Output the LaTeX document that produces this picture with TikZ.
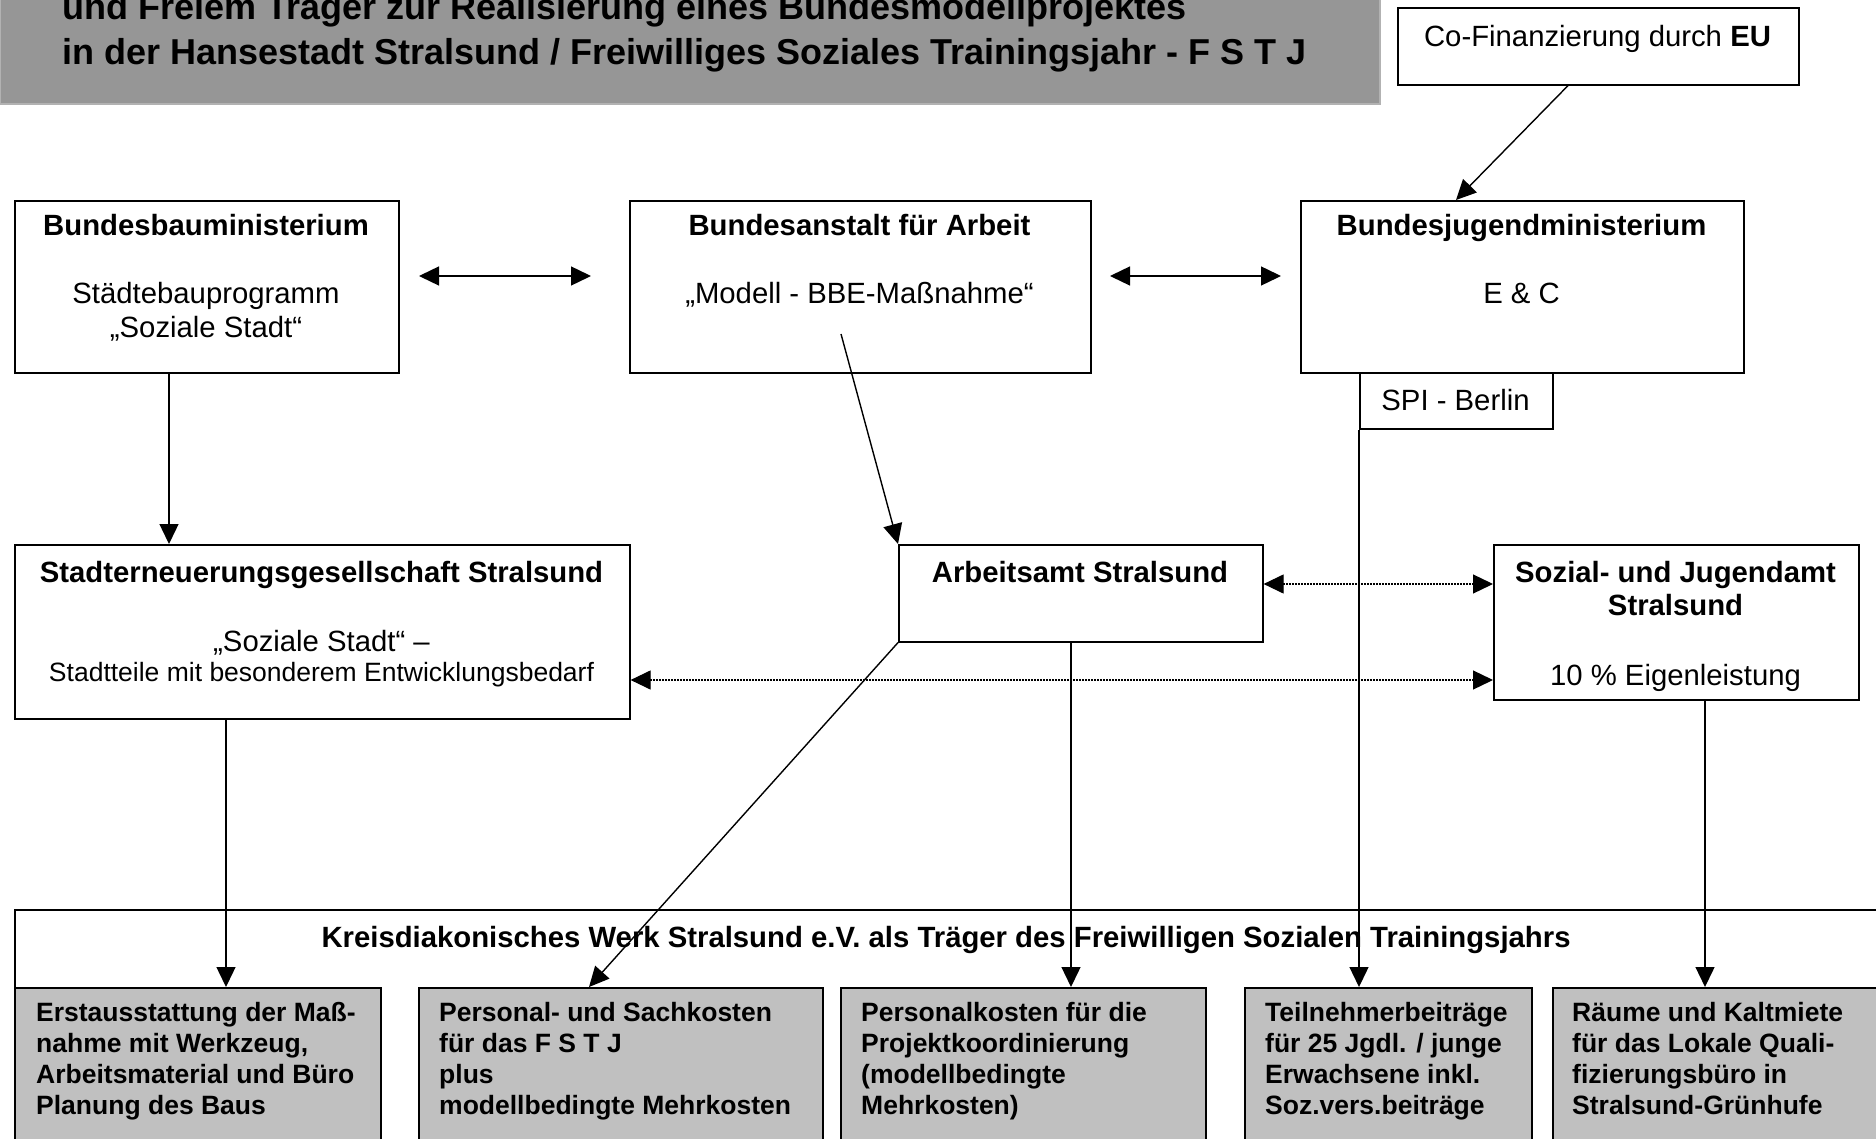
\documentclass[tikz,border=0pt]{standalone}
\usepackage{fontspec}
\setmainfont{Liberation Sans}
\usetikzlibrary{arrows.meta}
\definecolor{titlegray}{RGB}{150,150,150}
\definecolor{titleedge}{RGB}{178,178,178}
\definecolor{boxgray}{RGB}{192,192,192}
\newcommand\fN{\fontsize{29.3}{35}\selectfont}
\newcommand\fS{\fontsize{26.5}{31}\selectfont}
\newcommand\fT{\fontsize{36}{44}\selectfont\bfseries}
\begin{document}
\begin{tikzpicture}[x=1pt,y=-1pt,
  box/.style={draw, line width=1.6pt, inner sep=0pt, anchor=north west},
  graybox/.style={box, fill=boxgray},
  hd/.style={anchor=base, font=\fN\bfseries, inner sep=0pt},
  tx/.style={anchor=base, font=\fN, inner sep=0pt},
  sm/.style={anchor=base, font=\fS, inner sep=0pt},
  gt/.style={anchor=north west, font=\fS\bfseries, align=left, inner sep=0pt},
  arr/.style={-{Triangle[length=20pt,width=19pt]}, line width=1.4pt},
  darr/.style={{Triangle[length=20pt,width=19pt]}-{Triangle[length=20pt,width=19pt]}, line width=1.4pt},
  dotarr/.style={{Triangle[length=20pt,width=19pt]}-{Triangle[length=20pt,width=19pt]}, line width=1.2pt, dash pattern=on 1.4pt off 1.6pt}
]
\useasboundingbox (0,0) rectangle (1876,1139);
\clip (0,0) rectangle (1876,1139);
\fill[white] (0,0) rectangle (1876,1139);

% title
\node[draw=titleedge, fill=titlegray, line width=2pt, inner sep=0pt, anchor=north west,
      minimum width=1380pt, minimum height=123pt] (title) at (-1,-20) {};
\node[anchor=base west, font=\fT, inner sep=0pt] (t1) at (62,20) {und Freiem Träger zur Realisierung eines Bundesmodellprojektes};
\node[anchor=base west, font=\fT, inner sep=0pt] (t2) at (62,65) {in der Hansestadt Stralsund / Freiwilliges Soziales Trainingsjahr - F S T J};

% EU box
\node[box, minimum width=401pt, minimum height=77pt] (cofi) at (1397,7) {};
\node[tx] (cofiT) at (1597.5,47) {Co-Finanzierung durch \textbf{EU}};

% row 1
\node[box, minimum width=384pt, minimum height=172pt] (bbm) at (14,200) {};
\node[hd] (bbmT) at (206,236) {Bundesbauministerium};
\node[tx] (bbmA) at (206,304) {Städtebauprogramm};
\node[tx] (bbmB) at (206,338) {„Soziale Stadt“};

\node[box, minimum width=461pt, minimum height=172pt] (baa) at (629,200) {};
\node[hd] (baaT) at (859.5,236) {Bundesanstalt für Arbeit};
\node[tx] (baaA) at (859.5,304) {„Modell - BBE-Maßnahme“};

\node[box, minimum width=443pt, minimum height=172pt] (bjm) at (1300,200) {};
\node[hd] (bjmT) at (1521.5,236) {Bundesjugendministerium};
\node[tx] (bjmA) at (1521.5,304) {E \& C};

\node[box, fill=white, minimum width=193pt, minimum height=56pt] (spi) at (1359,372) {};
\node[tx] (spiT) at (1455.5,410) {SPI - Berlin};

% row 2
\node[box, minimum width=615pt, minimum height=174pt] (sg) at (14,544) {};
\node[hd] (sgT) at (321.5,582) {Stadterneuerungsgesellschaft Stralsund};
\node[tx] (sgA) at (321.5,651) {„Soziale Stadt“ –};
\node[sm] (sgB) at (321.5,681) {Stadtteile mit besonderem Entwicklungsbedarf};

\node[box, minimum width=364pt, minimum height=97pt] (ams) at (898,544) {};
\node[hd] (amsT) at (1080,582) {Arbeitsamt Stralsund};

\node[box, minimum width=365pt, minimum height=155pt] (sj) at (1493,544) {};
\node[hd] (sjT1) at (1675.5,582) {Sozial- und Jugendamt};
\node[hd] (sjT2) at (1675.5,615) {Stralsund};
\node[tx] (sjA) at (1675.5,685) {10 \% Eigenleistung};

% bottom
\node[box, minimum width=1900pt, minimum height=260pt] (kdw) at (14,909) {};
\node[hd] (kdwT) at (946,947) {Kreisdiakonisches Werk Stralsund e.V. als Träger des Freiwilligen Sozialen Trainingsjahrs};

\node[graybox, minimum width=366pt, minimum height=180pt] (g1) at (14,987) {};
\node[graybox, minimum width=404pt, minimum height=180pt] (g2) at (418,987) {};
\node[graybox, minimum width=365pt, minimum height=180pt] (g3) at (840,987) {};
\node[graybox, minimum width=287pt, minimum height=180pt] (g4) at (1244,987) {};
\node[graybox, minimum width=360pt, minimum height=180pt] (g5) at (1552,987) {};

\node[gt] (g1T) at (36,1002) {Erstausstattung der Maß-\\nahme mit Werkzeug,\\Arbeitsmaterial und Büro\\Planung des Baus};
\node[gt] (g2T) at (439,1002) {Personal- und Sachkosten\\für das F S T J\\plus\\modellbedingte Mehrkosten};
\node[gt] (g3T) at (861,1002) {Personalkosten für die\\Projektkoordinierung\\(modellbedingte\\Mehrkosten)};
\node[gt] (g4T) at (1265,1002) {Teilnehmerbeiträge\\für 25 Jgdl. / junge\\Erwachsene inkl.\\Soz.vers.beiträge};
\node[gt] (g5T) at (1572,1002) {Räume und Kaltmiete\\für das Lokale Quali-\\fizierungsbüro in\\Stralsund-Grünhufe};

% helper coordinates
\coordinate (xa) at (169,0);
\coordinate (xb) at (226,0);
\coordinate (xc) at (1071,0);
\coordinate (xd) at (1705,0);
\coordinate (xe) at (1568,0);
\coordinate (xf) at (1456,0);
\coordinate (xg) at (589,0);
\coordinate (ya) at (0,584);
\coordinate (yb) at (0,680);
\coordinate (d1a) at (419,276);
\coordinate (d1b) at (591,276);
\coordinate (d2a) at (1110,276);
\coordinate (d2b) at (1281,276);
\coordinate (baS) at (841,334);

% connectors
\draw[darr] (d1a) -- (d1b);
\draw[darr] (d2a) -- (d2b);
\draw[arr] (cofi.south -| xe) -- (bjm.north -| xf);
\draw[arr] (bbm.south -| xa) -- (sg.north -| xa);
\draw[arr] (baS) -- (ams.north west);
\draw[dotarr] (ams.east |- ya) -- (sj.west |- ya);
\draw[dotarr] (sg.east |- yb) -- (sj.west |- yb);
\draw[arr] (sg.south -| xb) -- (g1.north -| xb);
\draw[arr] (ams.south west) -- (g2.north -| xg);
\draw[arr] (ams.south -| xc) -- (g3.north -| xc);
\draw[arr] (spi.south west) -- (g4.north -| spi.south west);
\draw[arr] (sj.south -| xd) -- (g5.north -| xd);
\end{tikzpicture}
\end{document}
